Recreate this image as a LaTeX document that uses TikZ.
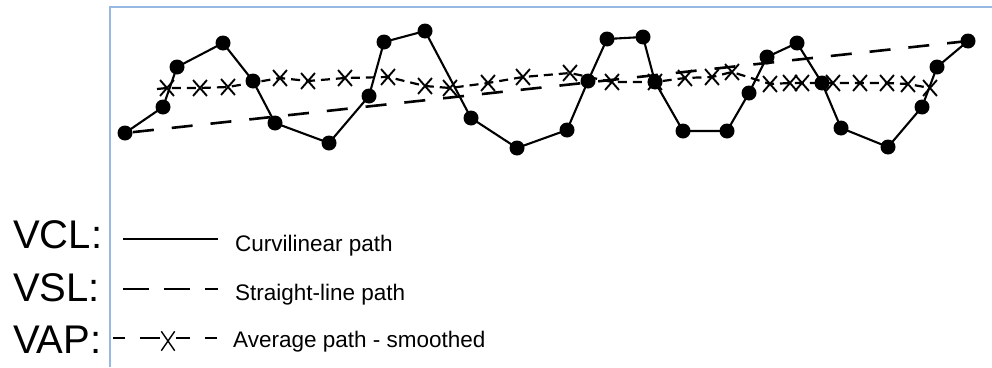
\documentclass[tikz,border=0pt]{standalone}
\usepackage{fontspec}
\setmainfont{Liberation Sans}
\usetikzlibrary{shapes.misc}
\definecolor{framecol}{RGB}{150,184,226}
\begin{document}
\begin{tikzpicture}[x=1pt,y=-1pt,
  dot/.style={circle,fill=black,inner sep=0pt,minimum size=15pt},
  vcl/.style={line width=2.1pt},
  vsl/.style={line width=2.6pt,dash pattern=on 21pt off 18pt,dash phase=-8pt},
  vap/.style={line width=2.2pt,dash pattern=on 9pt off 6pt},
  xm/.style={cross out,draw,line width=1.9pt,inner sep=0pt,minimum width=12pt,minimum height=14pt},
  xleg/.style={cross out,draw,line width=1.4pt,inner sep=0pt,minimum width=12pt,minimum height=18pt},
  frame/.style={draw=framecol,line width=2pt},
  big/.style={inner sep=0pt,anchor=base west,font=\fontsize{40}{40}\selectfont},
  small/.style={inner sep=0pt,anchor=base west,font=\fontsize{22.5}{22.5}\selectfont},
  leg/.style={line width=2.2pt}
]
\useasboundingbox (0,0) rectangle (992,367);
% frame
\coordinate (fb) at (110,367);
\coordinate (fc) at (110,7);
\coordinate (fr) at (992,7);
\draw[frame] (fb) -- (fc) -- (fr);

% curvilinear path points
\foreach \n/\x/\y in {1/125/133,2/163/107,3/177/67,4/223/43,5/253/81,6/275/123,7/329/143,
  8/369/96,9/384/42,10/425/31,11/471/118,12/517/148,13/567/130,14/588/81,15/607/39,
  16/643/37,17/655/82,18/683/131,19/727/131,20/749/93,21/767/57,22/797/43,23/822/83,
  24/841/128,25/888/147,26/922/107,27/937/67,28/968/41}
  \coordinate (c\n) at (\x,\y);

% straight-line path
\draw[vsl] (c1) -- (c28);

% average path points
\foreach \n/\x/\y in {1/167/88,2/200/88,3/228/87,4/280/78,5/308/81,6/345/78,7/388/77,
  8/425/86,9/450/88,10/488/83,11/523/77,12/570/73,13/612/82,14/655/82,15/685/78,
  16/712/77,17/732/72,18/770/84,19/790/83,20/802/83,21/833/83,22/860/83,23/887/83,
  24/908/84,25/930/88}
  \coordinate (a\n) at (\x,\y);
\coordinate (a0) at (157,89);
\draw[vap] (a0) \foreach \n in {1,...,25} { -- (a\n) };
\foreach \n in {1,...,25} \node[xm] (x\n) at (a\n) {};

% curvilinear path
\draw[vcl] (c1) \foreach \n in {2,...,28} { -- (c\n) };
\foreach \n in {1,...,28} \node[dot] (d\n) at (c\n) {};

% legend
\node[big] (tvcl) at (13,248) {VCL:};
\node[big] (tvsl) at (13,301) {VSL:};
\node[big] (tvap) at (13,353) {VAP:};
\node[small] (lvcl) at (235,251) {Curvilinear path};
\node[small] (lvsl) at (235,300) {Straight-line path};
\node[small] (lvap) at (233,347) {Average path - smoothed};

\coordinate (l1a) at (123,239);
\coordinate (l1b) at (218,239);
\draw[leg] (l1a) -- (l1b);

\coordinate (l2a) at (123,289);
\coordinate (l2b) at (218,289);
\draw[leg,line width=2.5pt,dash pattern=on 26pt off 15pt] (l2a) -- (l2b);

\coordinate (l3a) at (113,338);
\coordinate (l3b) at (125,338);
\coordinate (l3c) at (140,338);
\coordinate (l3d) at (160,338);
\coordinate (l3e) at (176,338);
\coordinate (l3f) at (190,338);
\coordinate (l3g) at (205,338);
\coordinate (l3h) at (217,338);
\draw[leg] (l3a) -- (l3b);
\draw[leg] (l3c) -- (l3d);
\draw[leg] (l3e) -- (l3f);
\draw[leg] (l3g) -- (l3h);
\node[xleg] (lx) at (168,341) {};
\end{tikzpicture}
\end{document}
